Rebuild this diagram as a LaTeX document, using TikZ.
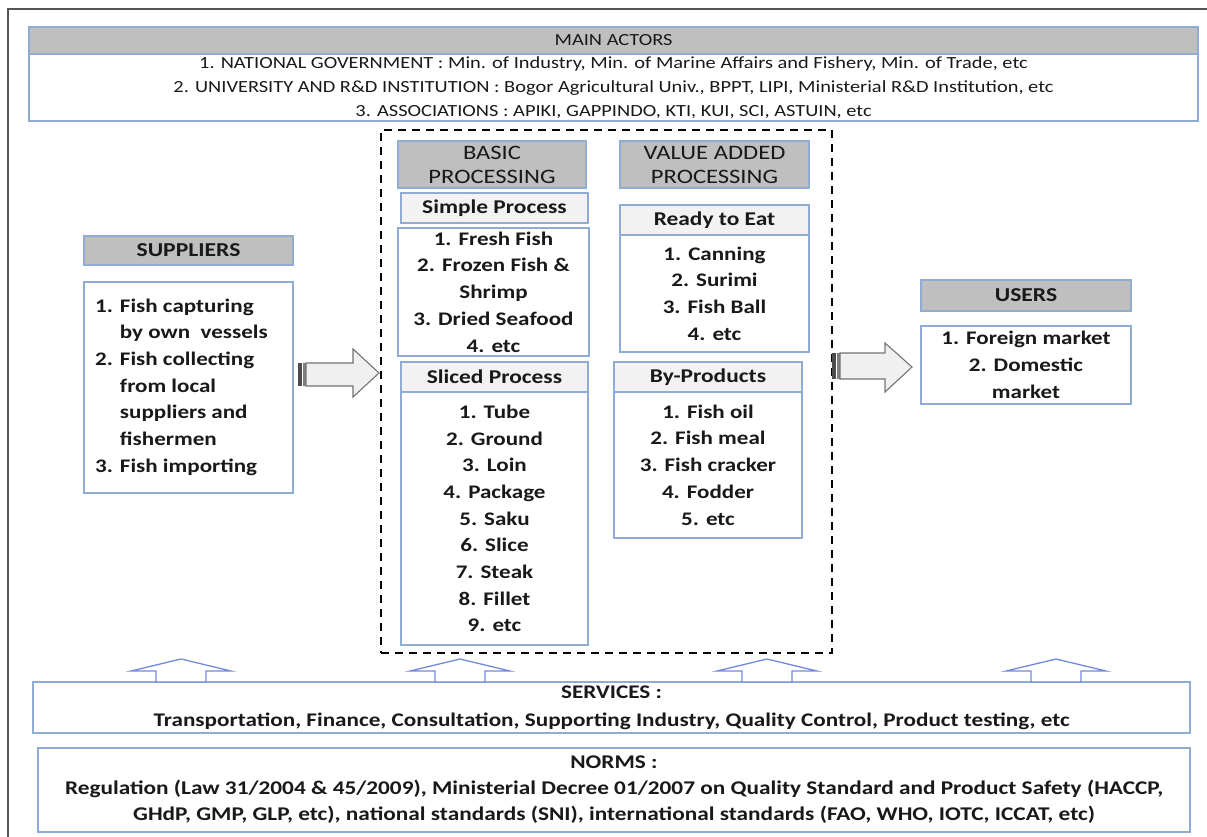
\documentclass[tikz,border=0pt]{standalone}
\usepackage{fontspec}
\setmainfont[FakeStretch=1.2]{Carlito}
\definecolor{bord}{RGB}{143,172,212}
\definecolor{hdrgray}{RGB}{191,191,191}
\definecolor{subgray}{RGB}{242,242,242}
\definecolor{arrfill}{RGB}{240,240,240}
\definecolor{framec}{RGB}{85,85,85}
\definecolor{txt}{RGB}{25,25,25}
\begin{document}
\begin{tikzpicture}[x=1pt,y=-1pt,
  box/.style={draw=bord, line width=1.3pt, inner sep=0pt, outer sep=0pt, align=center, text=txt, anchor=north west, fill=white},
  hdr/.style={box, fill=hdrgray},
  sub/.style={box, fill=subgray, font=\fontsize{19.5}{23}\selectfont\bfseries},
  lst/.style={box, font=\fontsize{19.2}{26.7}\selectfont\bfseries},
  harrow/.style={draw=black!55, line width=1.1pt, fill=arrfill, line join=miter},
  uparrow/.style={draw=bord!80!blue, line width=1.3pt, fill=white, line join=miter}]
\useasboundingbox (0,0) rectangle (1207,837);
% frame
\draw[framec, line width=1.6pt] (8,837) -- (8,9) -- (1207,9);
% main actors
\node[hdr, minimum width=1169, minimum height=27, font=\fontsize{17}{20}\selectfont] (mainhdr) at (29,27) {MAIN ACTORS};
\node[box, minimum width=1169, minimum height=67, font=\fontsize{17}{24}\selectfont] (mainbody) at (29,54) {1. NATIONAL GOVERNMENT : Min. of Industry, Min. of Marine Affairs and Fishery, Min. of Trade, etc\\2. UNIVERSITY AND R\&D INSTITUTION : Bogor Agricultural Univ., BPPT, LIPI, Ministerial R\&D Institution, etc\\3. ASSOCIATIONS : APIKI, GAPPINDO, KTI, KUI, SCI, ASTUIN, etc};
% processing frame
\node[draw=black, line width=2.4pt, dash pattern=on 8pt off 6pt, anchor=north west, minimum width=451, minimum height=523, inner sep=0pt] (proc) at (380,129) {};
\node[hdr, minimum width=188, minimum height=47, font=\fontsize{20.5}{24}\selectfont] (basic) at (398,141) {BASIC\\PROCESSING};
\node[hdr, minimum width=189, minimum height=47, font=\fontsize{20.5}{24}\selectfont] (va) at (620,141) {VALUE ADDED\\PROCESSING};
\node[sub, minimum width=187, minimum height=30] (simplehdr) at (401,193) {Simple Process};
\node[lst, minimum width=191, minimum height=128] (simple) at (398,228) {1. Fresh Fish\\2. Frozen Fish \&\\Shrimp\\3. Dried Seafood\\4. etc};
\node[sub, minimum width=187, minimum height=30] (slicedhdr) at (401,362) {Sliced Process};
\node[lst, minimum width=187, minimum height=253] (sliced) at (401,392) {1. Tube\\2. Ground\\3. Loin\\4. Package\\5. Saku\\6. Slice\\7. Steak\\8. Fillet\\9. etc};
\node[sub, minimum width=189, minimum height=30] (rtehdr) at (620,205) {Ready to Eat};
\node[lst, minimum width=189, minimum height=117] (rte) at (620,235) {1. Canning\\2. Surimi\\3. Fish Ball\\4. etc};
\node[sub, minimum width=188, minimum height=30] (byhdr) at (614,362) {By-Products};
\node[lst, minimum width=188, minimum height=146] (by) at (614,392) {1. Fish oil\\2. Fish meal\\3. Fish cracker\\4. Fodder\\5. etc};
% suppliers
\node[hdr, minimum width=209, minimum height=29, font=\fontsize{19.7}{23}\selectfont\bfseries] (suphdr) at (84,236) {SUPPLIERS};
\node[box, minimum width=209, minimum height=211] (sup) at (84,282) {};
\node[anchor=west, align=left, inner sep=0pt, text=txt, font=\fontsize{19.2}{26.7}\selectfont\bfseries] (suptext) at (95,387) {1. Fish capturing\\\hphantom{1. }by own\ \ vessels\\2. Fish collecting\\\hphantom{2. }from local\\\hphantom{2. }suppliers and\\\hphantom{2. }fishermen\\3. Fish importing};
% users
\node[hdr, minimum width=210, minimum height=31, font=\fontsize{19.7}{23}\selectfont\bfseries] (usershdr) at (921,280) {USERS};
\node[lst, minimum width=210, minimum height=78] (users) at (921,326) {1. Foreign market\\2. Domestic\\market};
% services and norms
\node[box, minimum width=1157, minimum height=51, font=\fontsize{19.3}{28}\selectfont\bfseries] (services) at (33,682) {SERVICES :\\Transportation, Finance, Consultation, Supporting Industry, Quality Control, Product testing, etc};
\node[box, minimum width=1152, minimum height=84, font=\fontsize{19.4}{26}\selectfont\bfseries] (norms) at (38,748) {NORMS :\\Regulation (Law 31/2004 \& 45/2009), Ministerial Decree 01/2007 on Quality Standard and Product Safety (HACCP,\\GHdP, GMP, GLP, etc), national standards (SNI), international standards (FAO, WHO, IOTC, ICCAT, etc)};
% horizontal striped arrows
\fill[black!70] (298,363) rectangle (302,386);
\fill[black!50] (303,363) rectangle (306,386);
\draw[harrow] (306,363) -- (353,363) -- (353,349) -- (379,373) -- (353,397) -- (353,386) -- (306,386) -- cycle;
\fill[black!70] (832,353) rectangle (836,379);
\fill[black!50] (837,353) rectangle (840,379);
\draw[harrow] (840,353) -- (885,353) -- (885,343) -- (912,367) -- (885,392) -- (885,379) -- (840,379) -- cycle;
% up arrows
\foreach \c in {181,460,767,1056}{
  \draw[uparrow] ({\c-50},671) -- (\c,659) -- ({\c+50},671) -- ({\c+25},671) -- ({\c+25},682) -- ({\c-25},682) -- ({\c-25},671) -- cycle;
}
\end{tikzpicture}
\end{document}
